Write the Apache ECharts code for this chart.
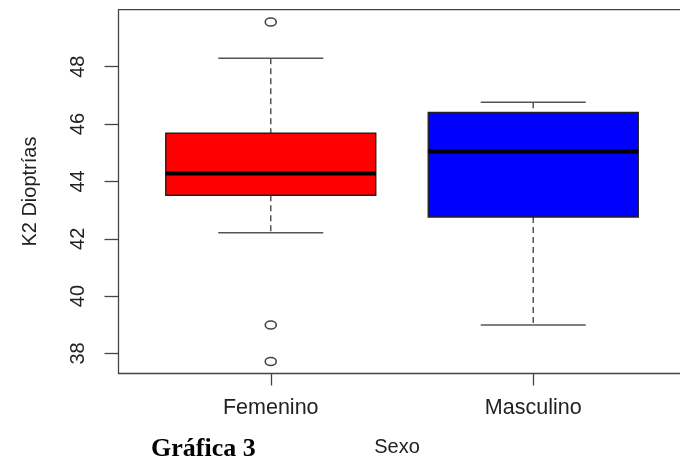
<!DOCTYPE html>
<html>
<head>
<meta charset="utf-8">
<script src="https://cdn.jsdelivr.net/npm/echarts@6/dist/echarts.min.js"></script>
<style>html,body{margin:0;padding:0;background:#fff}#chart{width:680px;height:460px}</style>
</head>
<body>
<div id="chart"></div>
<script>
// ---- data ----
const categories = ['Femenino', 'Masculino'];
const lowerWhisker = [42.21, 38.99];
const q1 = [43.52, 42.76];
const median = [44.28, 45.04];
const q3 = [45.68, 46.41];
const upperWhisker = [48.30, 46.76];
const outliersFemenino = [49.56, 38.99, 37.72];
const outliersMasculino = [];
const boxColors = ['#ff0000', '#0000ff'];
const yTicks = [38, 40, 42, 44, 46, 48];
const xTicks = [1, 2];

const boxData = categories.map((c, i) => [i + 1, lowerWhisker[i], q1[i], median[i], q3[i], upperWhisker[i]]);
const outlierData = [];
outliersFemenino.forEach(v => outlierData.push([1, v]));
outliersMasculino.forEach(v => outlierData.push([2, v]));

const chart = echarts.init(document.getElementById('chart'));
const font = 'Liberation Sans, Arial, sans-serif';
const lineCol = '#444';

chart.setOption({
  animation: false,
  backgroundColor: '#fff',
  title: {
    text: 'Gráfica 3',
    left: 151, top: 436, padding: 0,
    textStyle: { fontFamily: 'Liberation Serif, Times New Roman, serif', fontWeight: 'bold', fontSize: 26, color: '#000' }
  },
  grid: {
    left: 118.5, width: 567, top: 9.7, height: 363.8,
    outerBoundsMode: 'none',
    show: true, borderColor: lineCol, borderWidth: 1.3, backgroundColor: 'transparent', containLabel: false
  },
  xAxis: {
    type: 'value', min: 0.42, max: 2.58,
    name: 'Sexo', nameLocation: 'middle', nameGap: 64,
    nameTextStyle: { fontFamily: font, fontSize: 20, color: '#222', padding: [0, 10, 0, 0] },
    axisLine: { show: false },
    splitLine: { show: false },
    axisTick: { show: true, customValues: xTicks, length: 12, inside: false, lineStyle: { color: lineCol, width: 1.3 } },
    axisLabel: {
      customValues: xTicks, margin: 24,
      fontFamily: font, fontSize: 21.5, color: '#222',
      formatter: v => categories[Math.round(v) - 1] || ''
    }
  },
  yAxis: {
    type: 'value', min: 37.30, max: 49.99,
    name: 'K2 Dioptrías', nameLocation: 'middle', nameGap: 78, nameRotate: 90,
    nameTextStyle: { fontFamily: font, fontSize: 20, color: '#222' },
    axisLine: { show: false },
    splitLine: { show: false },
    axisTick: { show: true, customValues: yTicks, length: 14, inside: false, lineStyle: { color: lineCol, width: 1.3 } },
    axisLabel: { customValues: yTicks, rotate: 90, margin: 30, fontFamily: font, fontSize: 20, color: '#222' }
  },
  series: [
    {
      type: 'custom',
      data: boxData,
      encode: { x: 0, y: [1, 2, 3, 4, 5] },
      renderItem: function (params, api) {
        const x = api.value(0);
        const i = params.dataIndex;
        const pLw = api.coord([x, api.value(1)]);
        const pQ1 = api.coord([x, api.value(2)]);
        const pMed = api.coord([x, api.value(3)]);
        const pQ3 = api.coord([x, api.value(4)]);
        const pUw = api.coord([x, api.value(5)]);
        const bl = api.coord([x - 0.4, 0])[0];
        const br = api.coord([x + 0.4, 0])[0];
        const cl = api.coord([x - 0.2, 0])[0];
        const cr = api.coord([x + 0.2, 0])[0];
        const cx = pMed[0];
        const dash = { stroke: '#555', lineWidth: 1.5, lineDash: [6, 4] };
        const solid = { stroke: '#555', lineWidth: 1.5 };
        return {
          type: 'group',
          children: [
            { type: 'line', shape: { x1: cx, y1: pUw[1], x2: cx, y2: pQ3[1] }, style: dash },
            { type: 'line', shape: { x1: cx, y1: pQ1[1], x2: cx, y2: pLw[1] }, style: dash },
            { type: 'line', shape: { x1: cl, y1: pUw[1], x2: cr, y2: pUw[1] }, style: solid },
            { type: 'line', shape: { x1: cl, y1: pLw[1], x2: cr, y2: pLw[1] }, style: solid },
            { type: 'rect', shape: { x: bl, y: pQ3[1], width: br - bl, height: pQ1[1] - pQ3[1] },
              style: { fill: boxColors[i], stroke: '#222', lineWidth: 1.4 } },
            { type: 'line', shape: { x1: bl, y1: pMed[1], x2: br, y2: pMed[1] }, style: { stroke: '#000', lineWidth: 4 } }
          ]
        };
      }
    },
    {
      type: 'custom',
      data: outlierData,
      encode: { x: 0, y: 1 },
      renderItem: function (params, api) {
        const p = api.coord([api.value(0), api.value(1)]);
        return {
          type: 'ellipse',
          shape: { cx: p[0], cy: p[1], rx: 5.5, ry: 4 },
          style: { fill: 'none', stroke: '#444', lineWidth: 1.6 }
        };
      }
    }
  ]
});
</script>
</body>
</html>
